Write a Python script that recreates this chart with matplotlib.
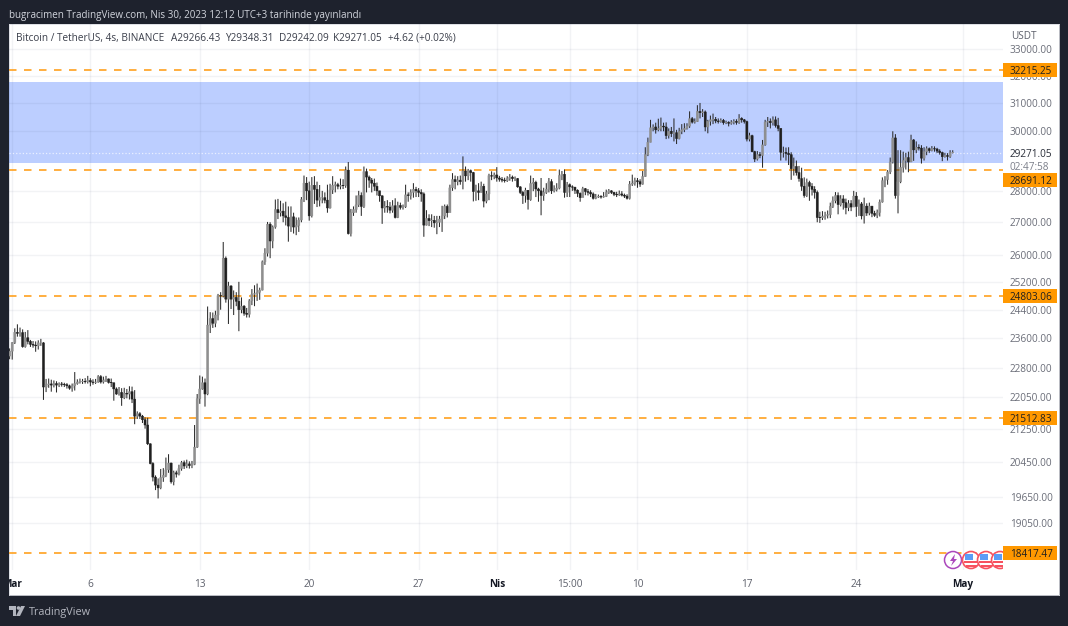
import matplotlib
matplotlib.use("Agg")
import matplotlib.pyplot as plt
from matplotlib.patches import Rectangle, Circle, Polygon
from matplotlib.ticker import NullLocator

plt.rcParams['font.family'] = ['Open Sans', 'DejaVu Sans']

# 4h candles; each open is the close before it
firstOpen = 23125
closes = [
    23255, 23490, 23770, 23740, 23760, 23380, 23620, 23520, 23440, 23420,
    23400, 23480, 23480, 22310, 22370, 22390, 22360, 22400, 22360, 22390,
    22380, 22370, 22340, 22280, 22340, 22400, 22440, 22450, 22460, 22450,
    22480, 22440, 22430, 22440, 22580, 22440, 22490, 22520, 22430, 22420,
    22260, 22130, 22170, 22035, 22150, 22130, 22190, 22000, 21570, 21630,
    21570, 21480, 21350, 20890, 20420, 20100, 19915, 19850, 20090, 20140,
    20270, 20430, 19990, 20200, 20170, 20300, 20440, 20360, 20410, 20370,
    20400, 20810, 22010, 22260, 22420, 22130, 23970, 24150, 24020, 24250,
    24800, 24790, 25900, 24700, 25080, 24700, 24750, 24640, 24400, 24500,
    24300, 24270, 24650, 24840, 24860, 24900, 24960, 25790, 26050, 26940,
    26420, 26850, 27400, 27300, 27350, 27200, 27150, 26880, 27170, 26850,
    26900, 27070, 27720, 28250, 28000, 27200, 28180, 28050, 27700, 27780,
    27780, 27700, 27450, 28030, 28180, 28200, 28150, 28180, 28170, 28680,
    26650, 27300, 27400, 27550, 27850, 27500, 28630, 28450, 28350, 28250,
    28150, 28000, 27840, 27450, 27500, 27480, 27380, 27520, 27150, 27530,
    27470, 27490, 27870, 27850, 27950, 28050, 28000, 27950, 27900, 26910,
    27120, 27050, 27060, 26980, 27000, 27100, 27200, 27500, 27300, 28100,
    28370, 28300, 28350, 28300, 28650, 28490, 28660, 28600, 27980, 28000,
    27950, 28150, 27670, 27900, 28500, 28480, 28520, 28420, 28380, 28350,
    28330, 28400, 28450, 28400, 28400, 28130, 27950, 27850, 28020, 27720,
    28240, 28280, 28060, 28000, 27850, 27950, 28050, 28300, 28000, 28040,
    28090, 28500, 28540, 27950, 28200, 28130, 28120, 28020, 27920, 27780,
    28070, 27980, 27950, 27900, 27760, 27800, 27820, 27800, 27820, 27950,
    28000, 27950, 27890, 27870, 27900, 27860, 27830, 27760, 28220, 28250,
    28330, 28300, 28220, 28470, 29200, 29620, 30120, 30150, 30050, 30100,
    30180, 30150, 29850, 30000, 29920, 29950, 29750, 30000, 30050, 30100,
    30180, 30440, 30320, 30340, 30700, 30650, 30680, 30150, 30350, 30400,
    30420, 30360, 30340, 30380, 30300, 30310, 30280, 30320, 30350, 30310,
    30450, 30400, 30340, 29730, 29850, 29300, 29050, 29200, 29170, 29530,
    30320, 30350, 30300, 30400, 30200, 30100, 29280, 29280, 29240, 29200,
    28730, 28800, 28600, 28400, 28150, 27850, 28270, 28150, 28050, 27950,
    27150, 27140, 27190, 27220, 27240, 27500, 27680, 27850, 27560, 27740,
    27620, 27460, 27590, 27480, 27830, 27500, 27580, 27200, 27510, 27290,
    27510, 27280, 27220, 27310, 27640, 28330, 28370, 28620, 28950, 29770,
    27850, 28300, 28770, 29000, 29100, 28950, 29700, 29360, 29450, 29420,
    29080, 29300, 29400, 29340, 29400, 29390, 29320, 29270, 29130, 29170,
    29140, 29266.43, 29271.05,
]
highs = [
    23330, 23500, 23880, 23990, 23900, 23850, 23780, 23830, 23560, 23530,
    23520, 23550, 23590, 23500, 22520, 22530, 22500, 22480, 22460, 22430,
    22440, 22420, 22410, 22370, 22400, 22700, 22510, 22530, 22520, 22540,
    22600, 22540, 22510, 22520, 22620, 22620, 22580, 22600, 22530, 22530,
    22420, 22300, 22310, 22280, 22290, 22260, 22330, 22320, 22230, 21690,
    21670, 21600, 21540, 21530, 20900, 20450, 20140, 20070, 20290, 20310,
    20560, 20640, 20440, 20250, 20250, 20390, 20480, 20490, 20510, 20470,
    20480, 21350, 22130, 22610, 22580, 22530, 24490, 24330, 24320, 24370,
    24850, 24900, 26390, 25950, 25200, 25100, 24950, 24900, 25200, 24750,
    24530, 24450, 24700, 24990, 25100, 25150, 25030, 25830, 26200, 27010,
    27000, 26900, 27720, 27740, 27680, 27600, 27650, 27500, 27500, 27300,
    27150, 27150, 27800, 28500, 28450, 28300, 28450, 28480, 28300, 28190,
    28000, 27950, 28200, 28230, 28480, 28300, 28260, 28400, 28380, 28800,
    28950, 27420, 27500, 27850, 28000, 27950, 28800, 28730, 28500, 28420,
    28400, 28270, 28000, 27850, 27670, 27700, 27640, 27700, 27760, 27650,
    27620, 27560, 28200, 27950, 28050, 28250, 28130, 28090, 28050, 27950,
    27380, 27250, 27250, 27200, 27200, 27200, 27520, 27560, 27560, 28200,
    28580, 28500, 28480, 28500, 29140, 28800, 28720, 28700, 28620, 28200,
    28250, 28300, 28230, 28000, 28560, 28640, 28600, 28780, 28490, 28450,
    28430, 28480, 28550, 28500, 28470, 28420, 28150, 28000, 28100, 28020,
    28500, 28420, 28330, 28100, 28420, 28100, 28250, 28420, 28380, 28180,
    28250, 28700, 28650, 28700, 28290, 28240, 28180, 28130, 28050, 27950,
    28130, 28090, 28060, 28020, 27950, 27900, 27880, 27860, 27960, 28040,
    28060, 28020, 27970, 27970, 28010, 27990, 27910, 27890, 28320, 28530,
    28430, 28420, 28380, 28650, 29450, 29780, 30400, 30240, 30300, 30440,
    30480, 30300, 30310, 30100, 30150, 30450, 30050, 30120, 30250, 30280,
    30280, 30700, 30500, 30450, 30920, 31000, 30780, 30730, 30400, 30550,
    30620, 30500, 30450, 30450, 30430, 30370, 30350, 30390, 30420, 30420,
    30600, 30490, 30430, 30370, 29950, 29880, 29330, 29320, 29290, 29700,
    30400, 30500, 30450, 30520, 30520, 30470, 30100, 29470, 29440, 29450,
    29280, 29100, 29000, 28820, 28760, 28440, 28400, 28330, 28250, 28150,
    28010, 27330, 27350, 27330, 27370, 27620, 27820, 27960, 27950, 27860,
    27860, 27750, 27700, 27700, 28000, 27960, 27720, 27640, 27780, 27600,
    27620, 27470, 27360, 27400, 27720, 28440, 28480, 28680, 29100, 30000,
    29900, 29350, 29350, 29300, 29260, 29300, 29880, 29730, 29650, 29550,
    29520, 29450, 29480, 29440, 29490, 29480, 29430, 29380, 29300, 29260,
    29250, 29350, 29348.31,
]
lows = [
    23040, 23030, 23450, 23650, 23650, 23350, 23350, 23440, 23370, 23350,
    23240, 23300, 23400, 21980, 22180, 22290, 22190, 22300, 22170, 22310,
    22320, 22310, 22270, 22240, 22190, 22220, 22370, 22400, 22390, 22400,
    22400, 22330, 22370, 22390, 22420, 22400, 22400, 22440, 22400, 22310,
    21960, 22110, 22090, 21830, 22000, 22020, 21990, 21900, 21370, 21500,
    21500, 21400, 21260, 20860, 20400, 20000, 19800, 19610, 19820, 19990,
    20100, 20200, 19950, 19910, 20090, 20140, 20250, 20290, 20310, 20300,
    20310, 20380, 20790, 21880, 22240, 21810, 22100, 23750, 23890, 23910,
    24100, 24400, 24750, 24600, 24000, 24420, 24250, 24500, 23800, 24300,
    24230, 24180, 24180, 24530, 24500, 24650, 24680, 24950, 25700, 25950,
    25900, 26200, 26800, 27100, 27180, 27000, 26900, 26400, 26700, 26650,
    26600, 26700, 27000, 27640, 27700, 27050, 27150, 27580, 27480, 27500,
    27600, 27600, 27300, 27430, 27900, 27950, 28050, 28050, 28060, 28100,
    26620, 26560, 27200, 27300, 27480, 27200, 27450, 27950, 28100, 27950,
    28000, 27850, 27650, 26950, 27300, 27300, 27280, 27300, 27120, 27130,
    27400, 27400, 27450, 27650, 27720, 27780, 27800, 27800, 27650, 26550,
    26900, 26880, 26850, 26830, 26630, 26850, 26700, 27100, 27150, 27360,
    28000, 28050, 28180, 28200, 28050, 28300, 28350, 28300, 27660, 27680,
    27700, 27950, 27470, 27600, 27700, 28350, 28380, 28300, 28300, 28280,
    28270, 28290, 28330, 28300, 28320, 28100, 27900, 27580, 27620, 27400,
    27680, 27990, 27800, 27650, 27220, 27680, 27900, 27950, 27900, 27950,
    27980, 28050, 28350, 27780, 27800, 27800, 28000, 27900, 27800, 27650,
    27800, 27860, 27850, 27800, 27720, 27730, 27770, 27750, 27780, 27800,
    27900, 27900, 27830, 27800, 27840, 27820, 27770, 27720, 27720, 28160,
    28170, 28100, 28130, 28200, 28460, 29150, 29620, 30000, 29920, 30000,
    30000, 30000, 29730, 29750, 29800, 29650, 29560, 29720, 29900, 29970,
    30060, 30120, 30270, 30270, 30330, 30450, 30500, 30000, 29930, 30200,
    30250, 30280, 30270, 30300, 30230, 30250, 30170, 30230, 30240, 30230,
    30260, 30300, 30270, 29650, 29650, 29280, 28950, 29000, 29080, 28760,
    29500, 30150, 30100, 30200, 30130, 30000, 29000, 29100, 29000, 28850,
    28360, 28500, 28500, 28300, 28000, 27780, 27800, 27680, 27850, 27750,
    27000, 26980, 27070, 27080, 27120, 27130, 27450, 27600, 27250, 27500,
    27400, 27250, 27350, 27350, 27550, 27170, 27200, 27090, 26960, 27200,
    27220, 27160, 27170, 27130, 27180, 27620, 28120, 28200, 28550, 28900,
    27750, 27280, 28250, 28600, 28700, 28610, 29020, 28990, 29250, 29340,
    28900, 29000, 29180, 29260, 29310, 29300, 29250, 29200, 28980, 29100,
    29000, 29090, 29242.09,
]
opens = [firstOpen] + closes[:-1]
assert len(closes) == len(highs) == len(lows)

tickBars = [1, 31, 73, 115, 157, 187, 215, 241, 283, 325, 366]
tickLabels = ["Mar", "6", "13", "20", "27", "Nis", "15:00", "10", "17", "24", "May"]
boldLabels = ["Mar", "Nis", "May"]
priceTicks = [33000, 32000, 31000, 30000, 28000, 27000, 26000, 25200, 24400,
              23600, 22800, 22050, 21250, 20450, 19650, 19050]
levels = [32215.25, 28691.12, 24803.06, 21512.83, 18417.47]
zoneLow = 28924
zoneHigh = 31764
lastPrice = 29271.05

WIDTH, HEIGHT = 1068, 626
BG = "#1e222d"
ORANGE = "#ff9800"
AXFONT = 7.2


def pixelAxes(left, top, right, bottom):
    return [left / WIDTH, 1 - bottom / HEIGHT, (right - left) / WIDTH, (bottom - top) / HEIGHT]


fig = plt.figure(figsize=(WIDTH / 100, HEIGHT / 100), dpi=100, facecolor=BG)

panel = fig.add_axes(pixelAxes(9, 24, 1059, 595), facecolor="white")
panel.set_xticks([])
panel.set_yticks([])
for spine in panel.spines.values():
    spine.set_color("#d8dae0")
    spine.set_linewidth(0.6)

ax = fig.add_axes(pixelAxes(9, 24, 1003, 570))
ax.patch.set_alpha(0)
ax.set_yscale("log")
ax.set_ylim(18050, 33968)
ax.set_xlim(-0.23, 381.3)
for spine in ax.spines.values():
    spine.set_visible(False)

ax.yaxis.tick_right()
ax.yaxis.set_minor_locator(NullLocator())
ax.set_yticks(priceTicks)
ax.set_yticklabels(["%.2f" % p for p in priceTicks], fontsize=AXFONT, color="#6a6d78")
ax.tick_params(axis="y", which="both", length=0, pad=5)
ax.set_xticks(tickBars)
ax.set_xticklabels(tickLabels, fontsize=AXFONT, color="#5d606b")
ax.tick_params(axis="x", length=0, pad=6.5)
for label in ax.get_xticklabels():
    if label.get_text() in boldLabels:
        label.set_color("#131722")
        label.set_fontweight("bold")
ax.grid(True, color="#2a3560", alpha=0.06, linewidth=1.0)
ax.set_axisbelow(True)

ax.axhspan(zoneLow, zoneHigh, facecolor="#2962ff", alpha=0.31, edgecolor="none", zorder=0.4)
ax.axhline(lastPrice, color="white", linestyle=":", linewidth=0.9, alpha=0.7, zorder=1.5)
for level in levels:
    ax.axhline(level, color="#ffa11f", linewidth=1.2, linestyle=(0, (4.5, 4.5)), zorder=2)

bars = list(range(len(closes)))
wicks = ax.vlines(bars, lows, highs, color="#2b2b2b", linewidth=0.75, zorder=3)
wicks.set_snap(False)
bottoms = [min(o, c) for o, c in zip(opens, closes)]
heights = [abs(c - o) for o, c in zip(opens, closes)]
colors = ["#8f8f8f" if c >= o else "#1f1f1f" for o, c in zip(opens, closes)]
bodies = ax.bar(bars, heights, bottom=bottoms, width=0.8, color=colors,
                edgecolor=colors, linewidth=0.35, zorder=4)
for body in bodies:
    body.set_snap(False)

# overlay in picture pixels for the frame, price tags, icons and captions
ov = fig.add_axes([0, 0, 1, 1])
ov.set_xlim(0, WIDTH)
ov.set_ylim(HEIGHT, 0)
ov.axis("off")
ov.patch.set_alpha(0)

ov.add_patch(Rectangle((0, 0), 9, HEIGHT, facecolor=BG, edgecolor="none"))

# event icons at the foot of the chart
ov.add_patch(Circle((953, 560), 8.5, facecolor="white", edgecolor="#ab47bc", linewidth=1.1))
ov.add_patch(Polygon([(955, 554), (950, 561), (953, 561), (951, 566), (957, 559), (954, 559)],
                     facecolor="#ab47bc", edgecolor="none"))
for cx in [971, 986, 1000]:
    ov.add_patch(Circle((cx, 560), 8.5, facecolor="white", edgecolor="#f7525f", linewidth=1.2))
    ov.add_patch(Rectangle((cx - 6.5, 554), 8.5, 6, facecolor="#5b9cf6", edgecolor="none"))
    ov.add_patch(Rectangle((cx - 7, 560.5), 14, 2.2, facecolor="#f7525f", edgecolor="none"))
    ov.add_patch(Rectangle((cx - 5.5, 565), 11, 1.6, facecolor="#f7525f", edgecolor="none"))
ov.add_patch(Rectangle((1003, 550), 45, 21, facecolor="white", edgecolor="none"))


def priceToPixel(price):
    return HEIGHT - ax.transData.transform((0, price))[1]


# the 28691.12 tag sits lower than its line, pushed down by the countdown
tagShift = {28691.12: 10}
for level in levels:
    y = priceToPixel(level) + tagShift.get(level, 0)
    ov.add_patch(Rectangle((1003, y - 7), 54, 14, facecolor=ORANGE, edgecolor="none"))
    ov.text(1010, y, "%.2f" % level, fontsize=AXFONT, color="#1f1f1f", ha="left", va="center_baseline")

ov.add_patch(Rectangle((1004, priceToPixel(lastPrice) - 7), 52, 20, facecolor="white", edgecolor="none"))
ov.text(1010, priceToPixel(lastPrice), "%.2f" % lastPrice, fontsize=AXFONT, color="#2a2e39",
        ha="left", va="center_baseline")
ov.text(1010, 165.5, "02:47:58", fontsize=AXFONT, color="#7b7e89", ha="left", va="center_baseline")
ov.text(1011, 35, "USDT", fontsize=AXFONT, color="#5d606b", ha="left", va="center_baseline")

ov.text(9, 14, "bugracimen TradingView.com, Nis 30, 2023 12:12 UTC+3 tarihinde yayınlandı",
        fontsize=7.15, color="#d1d4dc", ha="left", va="center_baseline")
ov.text(16, 37, "Bitcoin / TetherUS, 4s, BINANCE", fontsize=7.2, color="#3a3e4a",
        ha="left", va="center_baseline")
ov.text(171, 37, "A29266.43", fontsize=7.2, color="#3a3e4a", ha="left", va="center_baseline")
ov.text(225, 37, "Y29348.31", fontsize=7.2, color="#3a3e4a", ha="left", va="center_baseline")
ov.text(279, 37, "D29242.09", fontsize=7.2, color="#3a3e4a", ha="left", va="center_baseline")
ov.text(333, 37, "K29271.05", fontsize=7.2, color="#3a3e4a", ha="left", va="center_baseline")
ov.text(388, 37, "+4.62 (+0.02%)", fontsize=7.2, color="#3a3e4a", ha="left", va="center_baseline")

# TradingView logo
logoColor = "#b2b5be"
ov.add_patch(Polygon([(9, 606), (16, 606), (16, 616), (12.5, 616), (12.5, 609.5), (9, 609.5)],
                     facecolor=logoColor, edgecolor="none"))
ov.add_patch(Circle((18.5, 608), 1.8, facecolor=logoColor, edgecolor="none"))
ov.add_patch(Polygon([(21, 606), (25, 606), (20, 616), (16, 616)], facecolor=logoColor, edgecolor="none"))
ov.text(29, 611, "TradingView", fontsize=7.8, color=logoColor, ha="left", va="center_baseline")

fig.savefig("out.png", dpi=100, facecolor=BG)
